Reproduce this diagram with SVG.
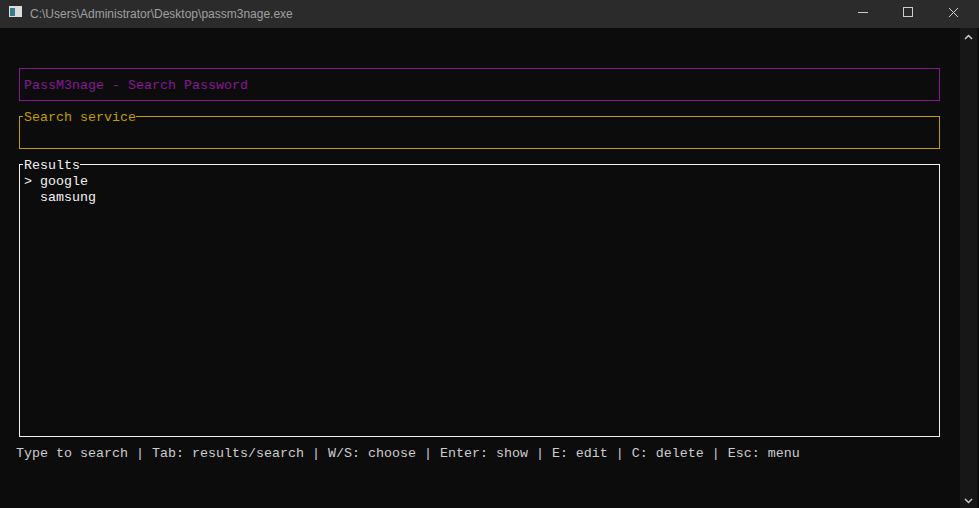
<svg xmlns="http://www.w3.org/2000/svg" width="979" height="508" viewBox="0 0 979 508">
<style>
.m{font-family:"Liberation Mono",monospace;font-size:13.33px}
.bg{fill:#0c0c0c}
</style>
<rect width="979" height="508" fill="#0c0c0c"/>
<g id="titlebar">
<rect width="979" height="28" fill="#2b2b2b"/>
<rect x="9" y="6" width="13" height="11" fill="#ddd"/>
<rect x="10" y="8" width="5" height="8" fill="#3a7a8a"/>
<text x="30" y="18" font-family="Liberation Sans,sans-serif" font-size="12" fill="#a0a0a0">C:\Users\Administrator\Desktop\passm3nage.exe</text>
<line x1="858" y1="12.5" x2="868" y2="12.5" stroke="#ccc"/>
<rect x="903.5" y="7.5" width="9" height="9" fill="none" stroke="#ccc"/>
<path d="M949 8L958 17M958 8L949 17" stroke="#ccc"/>
</g>
<g id="scrollbar">
<rect x="960" y="28" width="17" height="480" fill="#171717"/>
<path d="M965 39L968.5 35.5L972 39" fill="none" stroke="#ccc" stroke-width="1.5"/>
<path d="M965 499L968.5 502.5L972 499" fill="none" stroke="#ccc" stroke-width="1.5"/>
</g>
<g id="header">
<rect x="19.5" y="68.5" width="920" height="32" fill="none" stroke="#881798"/>
<text class="m" x="24" y="89" fill="#881798">PassM3nage - Search Password</text>
</g>
<g id="search">
<rect x="19.5" y="116.5" width="920" height="32" fill="none" stroke="#c19c00"/>
<rect x="23" y="110" width="113" height="12" class="bg"/>
<text class="m" x="24" y="121" fill="#c19c00">Search service</text>
</g>
<g id="results">
<rect x="19.5" y="164.5" width="920" height="272" fill="none" stroke="#f2f2f2"/>
<rect x="23" y="158" width="57" height="12" class="bg"/>
<text class="m" x="24" y="169" fill="#f2f2f2">Results</text>
<text class="m" x="24" y="185" fill="#f2f2f2" xml:space="preserve">&gt; google</text>
<text class="m" x="40" y="201" fill="#f2f2f2">samsung</text>
</g>
<g id="help">
<text class="m" x="16" y="457" fill="#cccccc">Type to search | Tab: results/search | W/S: choose | Enter: show | E: edit | C: delete | Esc: menu</text>
</g>
</svg>
